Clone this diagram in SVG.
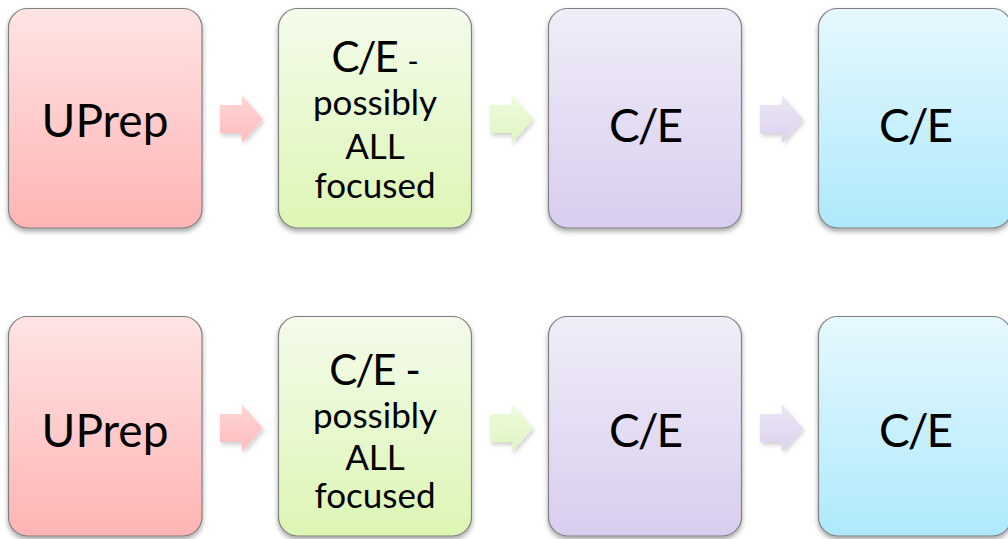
<svg xmlns="http://www.w3.org/2000/svg" width="1008" height="539" viewBox="0 0 1008 539">
<style>
.box{stroke:#808080;stroke-width:1.2;filter:url(#sh)}
.t{font-family:Lato,"Liberation Sans",sans-serif;fill:#000;text-anchor:middle}
.big{font-size:46px}
.ce{letter-spacing:-2px}
.mid{font-size:42px}
.sm{font-size:35px}
.arr{filter:url(#ash)}
</style>
<defs>
<filter id="sh" x="-10%" y="-10%" width="120%" height="125%">
<feDropShadow dx="0" dy="3" stdDeviation="2.5" flood-color="#000" flood-opacity="0.35"/>
</filter>
<filter id="ash" x="-30%" y="-30%" width="170%" height="170%">
<feDropShadow dx="1.5" dy="3" stdDeviation="2" flood-color="#000" flood-opacity="0.18"/>
</filter>
<linearGradient id="gR" x1="0" y1="0" x2="0" y2="1"><stop offset="0" stop-color="#ffe4e4"/><stop offset="1" stop-color="#ffb4b4"/></linearGradient>
<linearGradient id="gG" x1="0" y1="0" x2="0" y2="1"><stop offset="0" stop-color="#f4fbeb"/><stop offset="1" stop-color="#dcf6b4"/></linearGradient>
<linearGradient id="gP" x1="0" y1="0" x2="0" y2="1"><stop offset="0" stop-color="#f0edf8"/><stop offset="1" stop-color="#d9cdee"/></linearGradient>
<linearGradient id="gB" x1="0" y1="0" x2="0" y2="1"><stop offset="0" stop-color="#e6f8fe"/><stop offset="1" stop-color="#aee9fb"/></linearGradient>
<linearGradient id="aR" x1="0" y1="0" x2="0" y2="1"><stop offset="0" stop-color="#ffd6d6"/><stop offset="1" stop-color="#ffbcbc"/></linearGradient>
<linearGradient id="aG" x1="0" y1="0" x2="0" y2="1"><stop offset="0" stop-color="#eefbdc"/><stop offset="1" stop-color="#e0f5c4"/></linearGradient>
<linearGradient id="aP" x1="0" y1="0" x2="0" y2="1"><stop offset="0" stop-color="#ebe6f6"/><stop offset="1" stop-color="#ddd2ee"/></linearGradient>
<path id="arrow" d="M0,-14 H22 V-23.5 L43,0 L22,23.5 V14 H0 Z"/>
</defs>

<g id="connectors">
<use href="#arrow" class="arr" x="220" y="119" fill="url(#aR)"/>
<use href="#arrow" class="arr" x="490" y="119" fill="url(#aG)"/>
<use href="#arrow" class="arr" x="760" y="119" fill="url(#aP)"/>
<use href="#arrow" class="arr" x="220" y="428" fill="url(#aR)"/>
<use href="#arrow" class="arr" x="490" y="428" fill="url(#aG)"/>
<use href="#arrow" class="arr" x="760" y="428" fill="url(#aP)"/>
</g>

<g id="n1">
<rect class="box" x="8.5" y="8.5" width="193.5" height="219.5" rx="19" fill="url(#gR)"/>
<text class="t big" x="105" y="137">UPrep</text>
</g>
<g id="n2">
<rect class="box" x="278.5" y="8.5" width="193" height="219.5" rx="19" fill="url(#gG)"/>
<text class="t mid" x="375" y="72"><tspan class="ce">C/E</tspan> <tspan font-size="30px">-</tspan></text>
<text class="t sm" x="375" y="115">possibly</text>
<text class="t sm" x="375" y="159">ALL</text>
<text class="t sm" x="375" y="198">focused</text>
</g>
<g id="n3">
<rect class="box" x="548.5" y="8.5" width="193" height="219.5" rx="19" fill="url(#gP)"/>
<text class="t big ce" x="645" y="142">C/E</text>
</g>
<g id="n4">
<rect class="box" x="818.5" y="8.5" width="193" height="219.5" rx="19" fill="url(#gB)"/>
<text class="t big ce" x="915" y="142">C/E</text>
</g>

<g id="n5">
<rect class="box" x="8.5" y="316.5" width="193.5" height="219.5" rx="19" fill="url(#gR)"/>
<text class="t big" x="105" y="447">UPrep</text>
</g>
<g id="n6">
<rect class="box" x="278.5" y="316.5" width="193" height="219.5" rx="19" fill="url(#gG)"/>
<text class="t mid" x="375" y="385"><tspan class="ce">C/E</tspan> -</text>
<text class="t sm" x="375" y="428">possibly</text>
<text class="t sm" x="375" y="470">ALL</text>
<text class="t sm" x="375" y="508">focused</text>
</g>
<g id="n7">
<rect class="box" x="548.5" y="316.5" width="193" height="219.5" rx="19" fill="url(#gP)"/>
<text class="t big ce" x="645" y="447">C/E</text>
</g>
<g id="n8">
<rect class="box" x="818.5" y="316.5" width="193" height="219.5" rx="19" fill="url(#gB)"/>
<text class="t big ce" x="915" y="447">C/E</text>
</g>
</svg>
